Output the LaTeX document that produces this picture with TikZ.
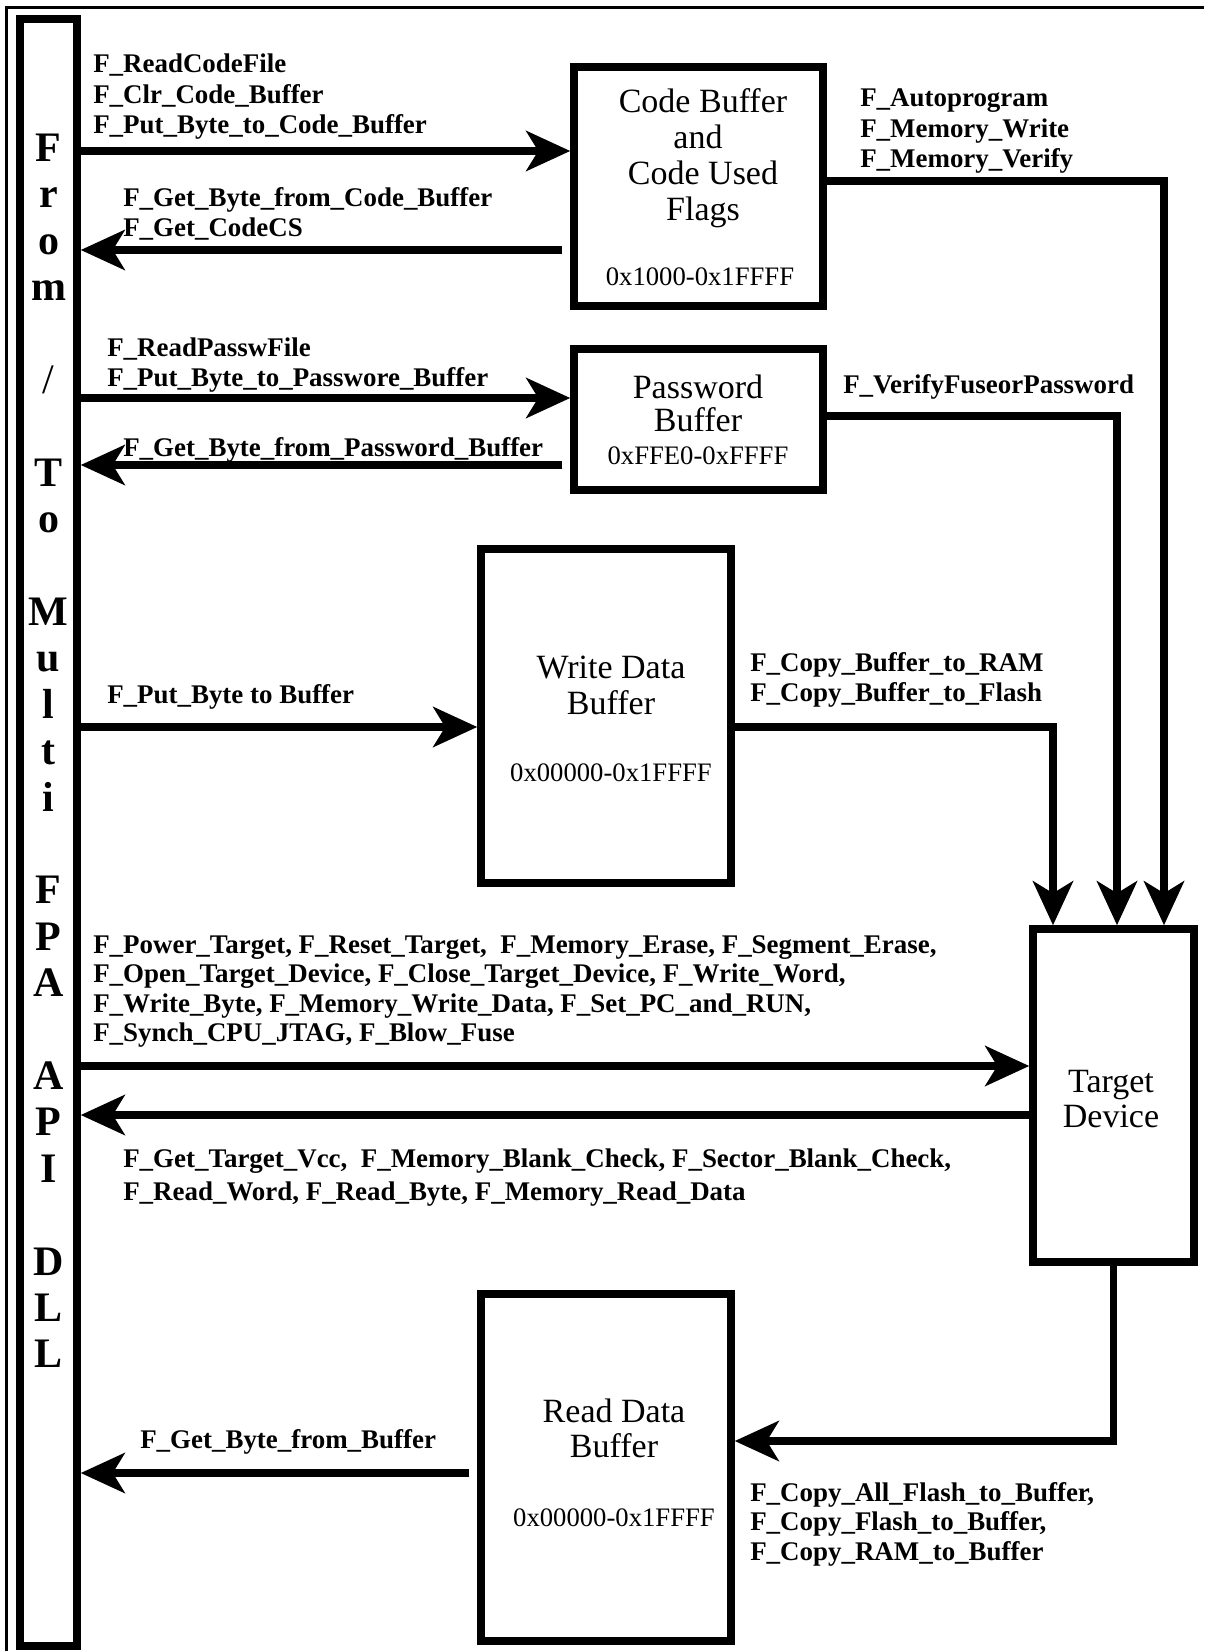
\documentclass[tikz,border=0pt]{standalone}
\usepackage{fontspec}
\setmainfont{Liberation Serif}
\usetikzlibrary{arrows.meta,calc,fit}
\begin{document}
\begin{tikzpicture}[x=0.75pt,y=-0.75pt,
  box/.style={draw, line width=5.6pt, inner sep=0pt},
  arr/.style={line width=5.6pt, -{Stealth[length=33pt,width=30pt,inset=9pt]}},
  gap/.style={shorten <=6pt},
  lbl/.style={font=\fontsize{20.2pt}{23pt}\selectfont\bfseries, anchor=base west, inner sep=0pt},
  btxt/.style={font=\fontsize{25.5pt}{28pt}\selectfont, anchor=base, inner sep=0pt},
  hex/.style={font=\fontsize{20pt}{23pt}\selectfont, anchor=base, inner sep=0pt},
  dllc/.style={font=\fontsize{31.5pt}{35pt}\selectfont\bfseries, anchor=base, inner sep=0pt}]
\useasboundingbox (0,0) rectangle (1204,1651);
% outer frame (top and left only)
\draw[line width=2.25pt] (6.5,1651) -- (6.5,8) -- (1204,8);

% boxes
\node[box, fit={(20,19) (77,1646)}] (dll) {};
\node[box, fit={(574,67) (823,306)}] (cb) {};
\node[box, fit={(574,349) (823,490)}] (pw) {};
\node[box, fit={(481,549) (731,883)}] (wd) {};
\node[box, fit={(1033,929) (1194,1262)}] (td) {};
\node[box, fit={(481,1294) (731,1641)}] (rd) {};

% DLL vertical title
\foreach \ch/\k in {F/0, r/1, o/2, m/3, T/7, o/8, M/10, u/11, l/12, t/13, i/14, F/16, P/17, A/18, A/20, P/21, I/22, D/24, L/25, L/26}
  \node[dllc] (dl\k) at (48.5, {161.5+46.4*\k}) {\ch};
\node[dllc, font=\fontsize{31.5pt}{35pt}\selectfont] (dl5) at (48.5, {161.5+46.4*5}) {/};

% box texts
\node[btxt] (cbt1) at (703,113) {Code Buffer};
\node[btxt] (cbt2) at (698,149) {and};
\node[btxt] (cbt3) at (703,185) {Code Used};
\node[btxt] (cbt4) at (703,221) {Flags};
\node[hex] (cbh) at (700,286) {0x1000-0x1FFFF};
\node[btxt] (pwt1) at (698,398) {Password};
\node[btxt] (pwt2) at (698,431) {Buffer};
\node[hex] (pwh) at (698,464) {0xFFE0-0xFFFF};
\node[btxt] (wdt1) at (611,678) {Write Data};
\node[btxt] (wdt2) at (611,714) {Buffer};
\node[hex] (wdh) at (611,781) {0x00000-0x1FFFF};
\node[btxt] (tdt1) at (1111,1092) {Target};
\node[btxt] (tdt2) at (1111,1127) {Device};
\node[btxt] (rdt1) at (614,1422) {Read Data};
\node[btxt] (rdt2) at (614,1457) {Buffer};
\node[hex] (rdh) at (614,1526) {0x00000-0x1FFFF};

% connectors
\draw[arr] (dll.east |- 0,151) -- (cb.west |- 0,151);
\draw[arr, gap] (cb.west |- 0,250) -- (dll.east |- 0,250);
\draw[arr] (dll.east |- 0,398) -- (pw.west |- 0,398);
\draw[arr, gap] (pw.west |- 0,465) -- (dll.east |- 0,465);
\draw[arr] (dll.east |- 0,727) -- (wd.west |- 0,727);
\draw[arr] (dll.east |- 0,1066) -- (td.west |- 0,1066);
\draw[arr] (td.west |- 0,1115) -- (dll.east |- 0,1115);
\draw[arr, gap] (rd.west |- 0,1473) -- (dll.east |- 0,1473);
\draw[arr] (td.south) |- (rd.east |- 0,1441);
\draw[arr] (cb.east |- 0,181) -| ($(td.north)+(50.5,0)$);
\draw[arr] (pw.east |- 0,416) -| ($(td.north)+(3.5,0)$);
\draw[arr] (wd.east |- 0,727) -| ($(td.north)+(-60.5,0)$);

% labels
\foreach \t [count=\i from 0] in {F\_ReadCodeFile, F\_Clr\_Code\_Buffer, F\_Put\_Byte\_to\_Code\_Buffer}
  \node[lbl] (la\i) at (93, {73+30.5*\i}) {\t};
\foreach \t [count=\i from 0] in {F\_Get\_Byte\_from\_Code\_Buffer, F\_Get\_CodeCS}
  \node[lbl] (lb\i) at (123, {207+30*\i}) {\t};
\foreach \t [count=\i from 0] in {F\_ReadPasswFile, F\_Put\_Byte\_to\_Passwore\_Buffer}
  \node[lbl] (lc\i) at (107, {356+30*\i}) {\t};
\node[lbl] (ld0) at (123,456) {F\_Get\_Byte\_from\_Password\_Buffer};
\node[lbl] (le0) at (107,703) {F\_Put\_Byte to Buffer};
\foreach \t [count=\i from 0] in {{F\_Power\_Target, F\_Reset\_Target,\ \ F\_Memory\_Erase, F\_Segment\_Erase,},
  {F\_Open\_Target\_Device, F\_Close\_Target\_Device, F\_Write\_Word,},
  {F\_Write\_Byte, F\_Memory\_Write\_Data, F\_Set\_PC\_and\_RUN,},
  {F\_Synch\_CPU\_JTAG, F\_Blow\_Fuse}}
  \node[lbl] (lf\i) at (93, {953+29.5*\i}) {\t};
\foreach \t [count=\i from 0] in {{F\_Get\_Target\_Vcc,\ \ F\_Memory\_Blank\_Check, F\_Sector\_Blank\_Check,},
  {F\_Read\_Word, F\_Read\_Byte, F\_Memory\_Read\_Data}}
  \node[lbl] (lg\i) at (123, {1167+33.5*\i}) {\t};
\node[lbl] (lh0) at (140,1448) {F\_Get\_Byte\_from\_Buffer};
\foreach \t [count=\i from 0] in {{F\_Copy\_All\_Flash\_to\_Buffer,}, {F\_Copy\_Flash\_to\_Buffer,}, {F\_Copy\_RAM\_to\_Buffer}}
  \node[lbl] (li\i) at (750, {1501+29.5*\i}) {\t};
\foreach \t [count=\i from 0] in {F\_Autoprogram, F\_Memory\_Write, F\_Memory\_Verify}
  \node[lbl] (lj\i) at (860, {107+30.5*\i}) {\t};
\node[lbl] (lk0) at (843,393) {F\_VerifyFuseorPassword};
\foreach \t [count=\i from 0] in {F\_Copy\_Buffer\_to\_RAM, F\_Copy\_Buffer\_to\_Flash}
  \node[lbl] (ll\i) at (750, {671+30*\i}) {\t};
\end{tikzpicture}
\end{document}
